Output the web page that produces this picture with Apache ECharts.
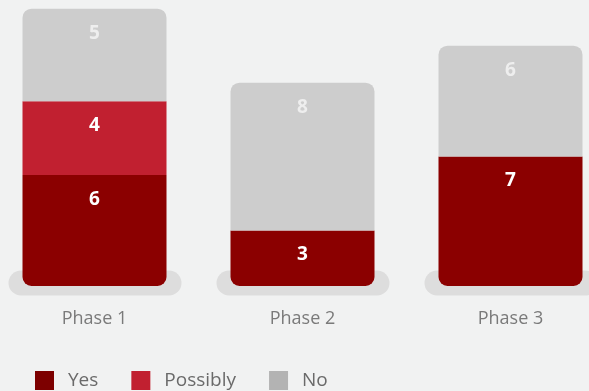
<!DOCTYPE html>
<html>
<head>
<meta charset="utf-8">
<script src="https://cdn.jsdelivr.net/npm/echarts@6/dist/echarts.min.js"></script>
<style>
html,body{margin:0;padding:0;background:#f1f2f2;}
#chart{width:589px;height:391px;}
</style>
</head>
<body>
<div id="chart"></div>
<script>
const categories = ['Phase 1', 'Phase 2', 'Phase 3'];
const seriesNames = ['Yes', 'Possibly', 'No'];
const yesValues = [6, 3, 7];
const possiblyValues = [4, 0, 0];
const noValues = [5, 8, 6];

const barColors = ['#8b0000', '#c12030', '#cdcdcd'];
const legendColors = ['#7d0000', '#c12030', '#b3b3b3'];
const labelColors = ['#ffffff', '#ffffff', '#eeeeee'];
const allValues = [yesValues, possiblyValues, noValues];
const R = 9;

function buildData(si) {
  return allValues[si].map((v, ci) => {
    let first = -1, last = -1;
    for (let k = 0; k < allValues.length; k++) {
      if (allValues[k][ci] > 0) { if (first < 0) first = k; last = k; }
    }
    const top = si === last ? R : 0;
    const bot = si === first ? R : 0;
    return { value: v, itemStyle: { borderRadius: [top, top, bot, bot] } };
  });
}

const chart = echarts.init(document.getElementById('chart'), null, { renderer: 'canvas' });

const series = [{
  type: 'custom',
  name: 'base',
  z: 1,
  silent: true,
  data: categories.map((c, i) => [i, 0]),
  renderItem: function (params, api) {
    const p = api.coord([api.value(0), api.value(1)]);
    return {
      type: 'rect',
      shape: { x: p[0] - 86, y: p[1] - 15.5, width: 173, height: 25, r: 12.5 },
      style: { fill: '#dddddd' }
    };
  }
}];

seriesNames.forEach((name, si) => {
  series.push({
    type: 'bar',
    name: name,
    stack: 'total',
    z: 2,
    barWidth: 144,
    data: buildData(si),
    itemStyle: { color: barColors[si] },
    label: {
      show: true,
      position: 'insideTop',
      distance: 15,
      color: labelColors[si],
      fontFamily: 'Open Sans',
      fontWeight: 'bold',
      fontSize: 19,
      formatter: p => (p.value ? String(p.value) : '')
    },
    emphasis: { disabled: true }
  });
});

chart.setOption({
  backgroundColor: '#f1f2f2',
  animation: false,
  grid: { left: -9.5, width: 624, top: 8.7, height: 277.3, containLabel: false, outerBoundsMode: 'none' },
  xAxis: {
    type: 'category',
    data: categories,
    axisLine: { show: false },
    axisTick: { show: false },
    axisLabel: { color: '#7a7a7a', fontFamily: 'Open Sans', fontSize: 18, margin: 24 }
  },
  yAxis: { type: 'value', min: 0, max: 15, show: false },
  legend: {
    left: 35,
    top: 371,
    padding: 0,
    itemWidth: 19,
    itemHeight: 19,
    itemGap: 33,
    icon: 'rect',
    textStyle: { color: '#6a6a6a', fontFamily: 'Open Sans', fontSize: 19, padding: [4, 0, 0, 9] },
    data: seriesNames.map((n, i) => ({ name: n, itemStyle: { color: legendColors[i] } }))
  },
  series: series
});
</script>
</body>
</html>
